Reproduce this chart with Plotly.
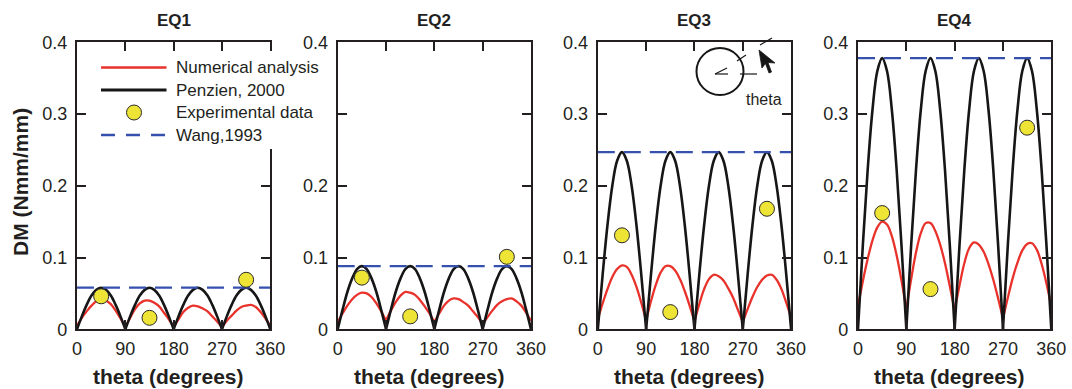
import plotly.graph_objects as go

W, H = 1072, 389
INK = "#231f20"
RED = "#e8322b"
BLACK = "#161616"
BLUE = "#3550ad"
YELLOW = "#ede436"
FONT = "Liberation Sans, Arial, Helvetica, sans-serif"

# ---------------- data ----------------
PANELS = ["EQ1", "EQ2", "EQ3", "EQ4"]
THETA = list(range(0, 361, 9))          # degrees, 41 samples
X_TICKS = [0, 90, 180, 270, 360]
Y_TICKS = [0, 0.1, 0.2, 0.3, 0.4]
Y_TICKTEXT = ["0", "0.1", "0.2", "0.3", "0.4"]
# in the reference the legend box hides the "0.3" label of the EQ2 panel
Y_TICKTEXT_EQ2 = ["0", "0.1", "0.2", "", "0.4"]

PENZIEN_EQ1 = [0.000, 0.018, 0.034, 0.047, 0.055, 0.058, 0.055, 0.047, 0.034, 0.018,
               0.000, 0.018, 0.034, 0.047, 0.055, 0.058, 0.055, 0.047, 0.034, 0.018,
               0.000, 0.018, 0.034, 0.047, 0.055, 0.058, 0.055, 0.047, 0.034, 0.018,
               0.000, 0.018, 0.034, 0.047, 0.055, 0.058, 0.055, 0.047, 0.034, 0.018,
               0.000]
PENZIEN_EQ2 = [0.000, 0.027, 0.052, 0.071, 0.084, 0.088, 0.084, 0.071, 0.052, 0.027,
               0.000, 0.027, 0.052, 0.071, 0.084, 0.088, 0.084, 0.071, 0.052, 0.027,
               0.000, 0.027, 0.052, 0.071, 0.084, 0.088, 0.084, 0.071, 0.052, 0.027,
               0.000, 0.027, 0.052, 0.071, 0.084, 0.088, 0.084, 0.071, 0.052, 0.027,
               0.000]
PENZIEN_EQ3 = [0.000, 0.076, 0.145, 0.200, 0.235, 0.247, 0.235, 0.200, 0.145, 0.076,
               0.000, 0.076, 0.145, 0.200, 0.235, 0.247, 0.235, 0.200, 0.145, 0.076,
               0.000, 0.076, 0.145, 0.200, 0.235, 0.247, 0.235, 0.200, 0.145, 0.076,
               0.000, 0.076, 0.145, 0.200, 0.235, 0.247, 0.235, 0.200, 0.145, 0.076,
               0.000]
PENZIEN_EQ4 = [0.000, 0.117, 0.222, 0.306, 0.360, 0.378, 0.360, 0.306, 0.222, 0.117,
               0.000, 0.117, 0.222, 0.306, 0.360, 0.378, 0.360, 0.306, 0.222, 0.117,
               0.000, 0.117, 0.222, 0.306, 0.360, 0.378, 0.360, 0.306, 0.222, 0.117,
               0.000, 0.117, 0.222, 0.306, 0.360, 0.378, 0.360, 0.306, 0.222, 0.117,
               0.000]

NUMERICAL_EQ1 = [0.005, 0.016, 0.025, 0.033, 0.039, 0.041, 0.040, 0.035, 0.026, 0.015,
                 0.003, 0.016, 0.028, 0.036, 0.040, 0.040, 0.037, 0.032, 0.023, 0.014,
                 0.003, 0.014, 0.024, 0.030, 0.033, 0.032, 0.029, 0.025, 0.018, 0.011,
                 0.003, 0.012, 0.019, 0.026, 0.031, 0.033, 0.034, 0.031, 0.024, 0.015,
                 0.005]
NUMERICAL_EQ2 = [0.010, 0.022, 0.033, 0.042, 0.048, 0.051, 0.050, 0.045, 0.036, 0.025,
                 0.012, 0.026, 0.038, 0.047, 0.052, 0.051, 0.048, 0.041, 0.032, 0.022,
                 0.010, 0.022, 0.033, 0.040, 0.043, 0.042, 0.038, 0.033, 0.025, 0.017,
                 0.007, 0.017, 0.026, 0.034, 0.039, 0.042, 0.043, 0.039, 0.033, 0.023,
                 0.012]
NUMERICAL_EQ3 = [0.014, 0.036, 0.056, 0.073, 0.084, 0.089, 0.087, 0.076, 0.059, 0.037,
                 0.012, 0.039, 0.062, 0.079, 0.088, 0.088, 0.082, 0.070, 0.053, 0.033,
                 0.011, 0.035, 0.056, 0.070, 0.076, 0.074, 0.068, 0.057, 0.044, 0.027,
                 0.010, 0.028, 0.045, 0.059, 0.069, 0.075, 0.076, 0.069, 0.056, 0.037,
                 0.016]
NUMERICAL_EQ4 = [0.032, 0.067, 0.098, 0.124, 0.142, 0.150, 0.146, 0.130, 0.103, 0.068,
                 0.028, 0.070, 0.107, 0.134, 0.148, 0.148, 0.137, 0.118, 0.092, 0.060,
                 0.026, 0.061, 0.092, 0.113, 0.121, 0.118, 0.108, 0.091, 0.069, 0.043,
                 0.015, 0.044, 0.071, 0.093, 0.110, 0.119, 0.120, 0.111, 0.091, 0.064,
                 0.032]

WANG = [0.058, 0.088, 0.247, 0.378]

EXP_THETA = [45, 135, 315]
EXP_EQ1 = [0.046, 0.016, 0.069]
EXP_EQ2 = [0.072, 0.018, 0.101]
EXP_EQ3 = [0.131, 0.024, 0.168]
EXP_EQ4 = [0.162, 0.056, 0.281]

PENZIEN = [PENZIEN_EQ1, PENZIEN_EQ2, PENZIEN_EQ3, PENZIEN_EQ4]
NUMERICAL = [NUMERICAL_EQ1, NUMERICAL_EQ2, NUMERICAL_EQ3, NUMERICAL_EQ4]
EXPERIMENT = [EXP_EQ1, EXP_EQ2, EXP_EQ3, EXP_EQ4]

# ---------------- layout helpers ----------------
def px(x):
    return x / W


def py(y):
    return 1 - y / H


PANEL_LEFT = [77.0, 337.7, 597.8, 858.0]
PANEL_W = 193.3
TOP, BOTTOM = 42.3, 329.3

fig = go.Figure()

for i in range(4):
    xa = "x" if i == 0 else f"x{i+1}"
    ya = "y" if i == 0 else f"y{i+1}"
    # numerical analysis (red), one smooth arch between successive minima
    for j in range(4):
        sl = slice(10 * j, 10 * j + 11)
        fig.add_trace(go.Scatter(x=THETA[sl], y=NUMERICAL[i][sl], mode="lines",
                                 line=dict(color=RED, width=2.3, shape="spline"),
                                 xaxis=xa, yaxis=ya, showlegend=False, hoverinfo="skip"))
    for j in range(4):
        sl = slice(10 * j, 10 * j + 11)
        fig.add_trace(go.Scatter(x=THETA[sl], y=PENZIEN[i][sl], mode="lines",
                                 line=dict(color=BLACK, width=2.6, shape="spline"),
                                 xaxis=xa, yaxis=ya, showlegend=False, hoverinfo="skip"))
    fig.add_trace(go.Scatter(x=[THETA[0], THETA[-1]], y=[WANG[i], WANG[i]], mode="lines",
                             line=dict(color=BLUE, width=2.2, dash="17px,9px"),
                             xaxis=xa, yaxis=ya, showlegend=False, hoverinfo="skip"))
    fig.add_trace(go.Scatter(x=EXP_THETA, y=EXPERIMENT[i], mode="markers",
                             marker=dict(color=YELLOW, size=15, line=dict(color="#2a2a2a", width=1)),
                             xaxis=xa, yaxis=ya, showlegend=False, hoverinfo="skip", cliponaxis=False))

axis_common = dict(showline=True, linecolor=INK, linewidth=2.2, mirror="ticks",
                   ticks="inside", ticklen=9, tickwidth=2.2, tickcolor=INK,
                   showgrid=False, zeroline=False, automargin=False,
                   tickfont=dict(family=FONT, size=18, color=INK))

layout = dict(width=W, height=H, margin=dict(l=0, r=0, t=0, b=0),
              paper_bgcolor="white", plot_bgcolor="white", showlegend=False,
              font=dict(family=FONT, color=INK))

annotations = []
for i in range(4):
    x0 = px(PANEL_LEFT[i])
    x1 = px(PANEL_LEFT[i] + PANEL_W)
    xk = "xaxis" if i == 0 else f"xaxis{i+1}"
    yk = "yaxis" if i == 0 else f"yaxis{i+1}"
    ya_name = "y" if i == 0 else f"y{i+1}"
    xa_name = "x" if i == 0 else f"x{i+1}"
    layout[xk] = dict(axis_common, domain=[x0, x1], range=[0, 360], tickvals=X_TICKS,
                      anchor=ya_name, ticklabelstandoff=2)
    layout[yk] = dict(axis_common, domain=[py(BOTTOM), py(TOP)], range=[0, 0.4],
                      tickvals=Y_TICKS,
                      ticktext=Y_TICKTEXT_EQ2 if i == 1 else Y_TICKTEXT,
                      anchor=xa_name, ticklabelstandoff=4)
    cx = PANEL_LEFT[i] + PANEL_W / 2
    annotations.append(dict(text="<b>" + PANELS[i] + "</b>", x=px(cx), y=py(20.5),
                            xref="paper", yref="paper", showarrow=False,
                            xanchor="center", yanchor="middle",
                            font=dict(family=FONT, size=17, color=INK)))
    annotations.append(dict(text="<b>theta (degrees)</b>", x=px(cx - 5), y=py(376),
                            xref="paper", yref="paper", showarrow=False,
                            xanchor="center", yanchor="middle",
                            font=dict(family=FONT, size=21, color=INK)))

annotations.append(dict(text="<b>DM (Nmm/mm)</b>", x=px(21), y=py(182), textangle=-90,
                        xref="paper", yref="paper", showarrow=False,
                        xanchor="center", yanchor="middle",
                        font=dict(family=FONT, size=21, color=INK)))

# ---------------- legend (drawn manually) ----------------
shapes = []
shapes.append(dict(type="rect", xref="paper", yref="paper", layer="above",
                   x0=px(90), x1=px(334), y0=py(149), y1=py(51),
                   fillcolor="white", line=dict(width=0)))
LEG_ROWS = [67.5, 90.0, 112.5, 135.0]
LEG_LABELS = ["Numerical analysis", "Penzien, 2000", "Experimental data", "Wang,1993"]
shapes.append(dict(type="line", xref="paper", yref="paper", layer="above",
                   x0=px(101), x1=px(166.5), y0=py(LEG_ROWS[0]), y1=py(LEG_ROWS[0]),
                   line=dict(color=RED, width=2.4)))
shapes.append(dict(type="line", xref="paper", yref="paper", layer="above",
                   x0=px(101), x1=px(166.5), y0=py(LEG_ROWS[1]), y1=py(LEG_ROWS[1]),
                   line=dict(color=BLACK, width=2.8)))
shapes.append(dict(type="circle", xref="paper", yref="paper", layer="above",
                   x0=px(126.5), x1=px(141.5), y0=py(LEG_ROWS[2] + 7.5), y1=py(LEG_ROWS[2] - 7.5),
                   fillcolor=YELLOW, line=dict(color="#2a2a2a", width=1)))
shapes.append(dict(type="line", xref="paper", yref="paper", layer="above",
                   x0=px(101), x1=px(166.5), y0=py(LEG_ROWS[3]), y1=py(LEG_ROWS[3]),
                   line=dict(color=BLUE, width=2.4, dash="14px,11px")))
for r, lab in zip(LEG_ROWS, LEG_LABELS):
    annotations.append(dict(text=lab, x=px(174), y=py(r), xref="paper", yref="paper",
                            showarrow=False, xanchor="left", yanchor="middle",
                            font=dict(family=FONT, size=17, color=INK)))

# ---------------- inset sketch in EQ3 ----------------
shapes.append(dict(type="circle", xref="paper", yref="paper", layer="above",
                   x0=px(696.5), x1=px(743.5), y0=py(95), y1=py(48),
                   line=dict(color=BLACK, width=2)))
for (ax0, ay0, ax1, ay1) in [(715, 74, 728, 74), (715, 74, 727, 68),
                             (740, 74, 757, 74), (737, 61, 746, 55), (760, 45, 772, 38)]:
    shapes.append(dict(type="line", xref="paper", yref="paper", layer="above",
                       x0=px(ax0), y0=py(ay0), x1=px(ax1), y1=py(ay1),
                       line=dict(color=BLACK, width=1.2)))
arrow_pts = [(759, 50), (762, 68), (765.5, 63.5), (769, 73), (771.5, 72), (768, 62.5), (775, 63)]
path = "M " + " L ".join(f"{px(a):.5f},{py(b):.5f}" for a, b in arrow_pts) + " Z"
shapes.append(dict(type="path", xref="paper", yref="paper", layer="above", path=path,
                   fillcolor=BLACK, line=dict(color=BLACK, width=0.8)))
annotations.append(dict(text="theta", x=px(764), y=py(99.5), xref="paper", yref="paper",
                        showarrow=False, xanchor="center", yanchor="middle",
                        font=dict(family=FONT, size=16, color=INK)))

layout["shapes"] = shapes
layout["annotations"] = annotations
fig.update_layout(**layout)

fig.write_html("out.html")
